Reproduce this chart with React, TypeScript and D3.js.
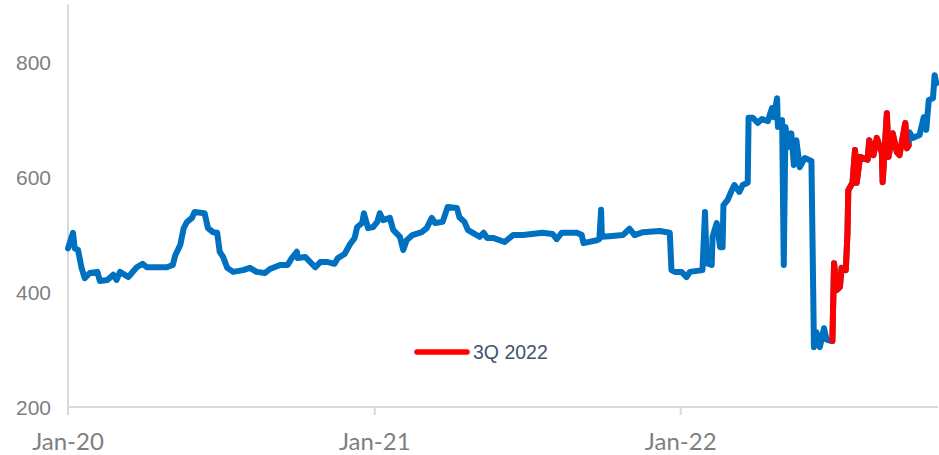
import React from "react";
import * as d3 from "d3";

const dates: string[] = [
  "2020-01-01","2020-01-07","2020-01-09","2020-01-13","2020-01-17","2020-01-21","2020-01-27","2020-02-05","2020-02-08","2020-02-17",
  "2020-02-24","2020-02-28","2020-03-03","2020-03-13","2020-03-23","2020-03-30","2020-04-04","2020-04-28","2020-05-05","2020-05-08",
  "2020-05-14","2020-05-18","2020-05-22","2020-05-28","2020-05-31","2020-06-12","2020-06-16","2020-06-22","2020-06-27","2020-06-30",
  "2020-07-04","2020-07-09","2020-07-16","2020-07-28","2020-08-05","2020-08-13","2020-08-23","2020-08-29","2020-09-10","2020-09-19",
  "2020-09-24","2020-09-30","2020-10-01","2020-10-10","2020-10-22","2020-10-28","2020-11-06","2020-11-14","2020-11-18","2020-11-26",
  "2020-12-02","2020-12-08","2020-12-11","2020-12-17","2020-12-19","2020-12-24","2020-12-30","2021-01-04","2021-01-07","2021-01-11",
  "2021-01-19","2021-01-23","2021-01-31","2021-02-04","2021-02-08","2021-02-15","2021-02-26","2021-03-04","2021-03-10","2021-03-14",
  "2021-03-23","2021-03-29","2021-04-09","2021-04-12","2021-04-18","2021-04-22","2021-04-28","2021-05-06","2021-05-11","2021-05-15",
  "2021-05-22","2021-06-05","2021-06-15","2021-06-27","2021-07-20","2021-08-01","2021-08-06","2021-08-12","2021-08-30","2021-09-05",
  "2021-09-07","2021-09-23","2021-09-26","2021-09-28","2021-09-29","2021-10-08","2021-10-24","2021-11-01","2021-11-07","2021-11-17",
  "2021-12-07","2021-12-19","2021-12-21","2021-12-25","2022-01-02","2022-01-08","2022-01-12","2022-01-27","2022-01-30","2022-02-01",
  "2022-02-07","2022-02-08","2022-02-13","2022-02-17","2022-02-20","2022-02-21","2022-02-26","2022-03-03","2022-03-06","2022-03-12",
  "2022-03-16","2022-03-22","2022-03-23","2022-03-28","2022-04-03","2022-04-08","2022-04-15","2022-04-20","2022-04-22","2022-04-26",
  "2022-04-27","2022-05-02","2022-05-04","2022-05-06","2022-05-09","2022-05-13","2022-05-16","2022-05-19","2022-05-23","2022-05-29",
  "2022-06-06","2022-06-09","2022-06-12","2022-06-16","2022-06-21","2022-06-24","2022-06-29",
  "2022-07-01","2022-07-03","2022-07-06","2022-07-10","2022-07-12","2022-07-17","2022-07-19","2022-07-20","2022-07-25","2022-07-28",
  "2022-07-30","2022-08-03","2022-08-12","2022-08-14","2022-08-19","2022-08-23","2022-08-29","2022-08-30","2022-09-04","2022-09-06",
  "2022-09-11","2022-09-16","2022-09-19","2022-09-26","2022-09-28","2022-09-30",
  "2022-10-01","2022-10-05","2022-10-13","2022-10-18","2022-10-21","2022-10-24","2022-10-29","2022-10-31","2022-11-02"
];

const values: number[] = [
  476,503,476,473,443,424,433,435,419,421,
  430,421,435,426,443,449,443,443,447,464,
  482,511,522,529,539,537,511,504,503,470,
  461,442,435,438,442,435,433,440,447,447,
  459,470,459,461,443,452,452,449,459,466,
  482,494,513,520,537,511,513,522,537,525,
  529,508,496,473,490,499,504,511,529,520,
  522,548,546,530,522,508,503,496,503,494,
  494,487,499,499,503,501,492,503,503,499,
  485,490,492,543,496,497,499,510,499,504,
  506,503,438,435,435,426,435,438,539,450,
  447,496,520,478,478,551,560,577,586,574,
  586,590,703,703,694,701,697,720,704,737,
  687,699,447,687,652,676,621,664,617,633,
  628,304,330,304,337,317,315,
  315,450,403,409,442,438,503,577,590,647,
  590,635,630,664,638,668,642,591,711,635,
  676,643,638,694,650,655,
  678,668,673,704,682,734,737,777,763
];

const yTicks: number[] = [200, 400, 600, 800];
const xTicks: string[] = ["2020-01-01", "2021-01-01", "2022-01-01"];
const xTickLabels: string[] = ["Jan-20", "Jan-21", "Jan-22"];
const highlightStart = "2022-07-01";
const highlightEnd = "2022-09-30";
const legendLabel = "3Q 2022";

export default function App() {
  const parse = d3.timeParse("%Y-%m-%d");
  const data = dates.map((d, i) => ({ date: parse(d) as Date, value: values[i] }));
  const hs = parse(highlightStart) as Date;
  const he = parse(highlightEnd) as Date;
  const q3 = data.filter((d) => d.date >= hs && d.date <= he);

  const x = d3
    .scaleTime()
    .domain([parse("2020-01-01") as Date, parse("2022-11-04") as Date])
    .range([68, 938]);
  const y = d3.scaleLinear().domain([200, 900]).range([407, 4.5]);

  const line = d3
    .line<{ date: Date; value: number }>()
    .x((d) => x(d.date))
    .y((d) => y(d.value));

  const axisColor = "#D9D9D9";

  return (
    <svg
      width={939}
      height={455}
      style={{ position: "absolute", left: 0, top: 0, display: "block" }}
    >
      <rect width={939} height={455} fill="#fff" />
      <line x1={68} x2={68} y1={y(900)} y2={415} stroke={axisColor} strokeWidth={2} />
      <line x1={68} x2={938} y1={y(200)} y2={y(200)} stroke={axisColor} strokeWidth={2} />
      {xTicks.map((t, i) => {
        const xx = x(parse(t) as Date);
        return (
          <g key={t}>
            <line x1={xx} x2={xx} y1={y(200)} y2={415} stroke={axisColor} strokeWidth={2} />
            <text
              x={xx}
              y={450}
              textAnchor="middle"
              fontFamily="Lato, 'Open Sans', sans-serif"
              fontSize={24}
              fill="#7F7F7F"
            >
              {xTickLabels[i]}
            </text>
          </g>
        );
      })}
      {yTicks.map((t) => (
        <text
          key={t}
          x={51}
          y={y(t) + 7.5}
          textAnchor="end"
          fontFamily="'Liberation Sans', Arial, sans-serif"
          fontSize={21}
          fill="#7F7F7F"
        >
          {t}
        </text>
      ))}
      <path
        d={line(data) || ""}
        fill="none"
        stroke="#0070C0"
        strokeWidth={6}
        strokeLinejoin="round"
        strokeLinecap="round"
      />
      <path
        d={line(q3) || ""}
        fill="none"
        stroke="#FF0000"
        strokeWidth={6}
        strokeLinejoin="round"
        strokeLinecap="round"
      />
      <line x1={417} x2={467} y1={352} y2={352} stroke="#FF0000" strokeWidth={5.5} strokeLinecap="round" />
      <text
        x={473}
        y={359}
        fontFamily="'Liberation Sans', Arial, sans-serif"
        fontSize={19.5}
        fill="#44546A"
      >
        {legendLabel}
      </text>
    </svg>
  );
}
